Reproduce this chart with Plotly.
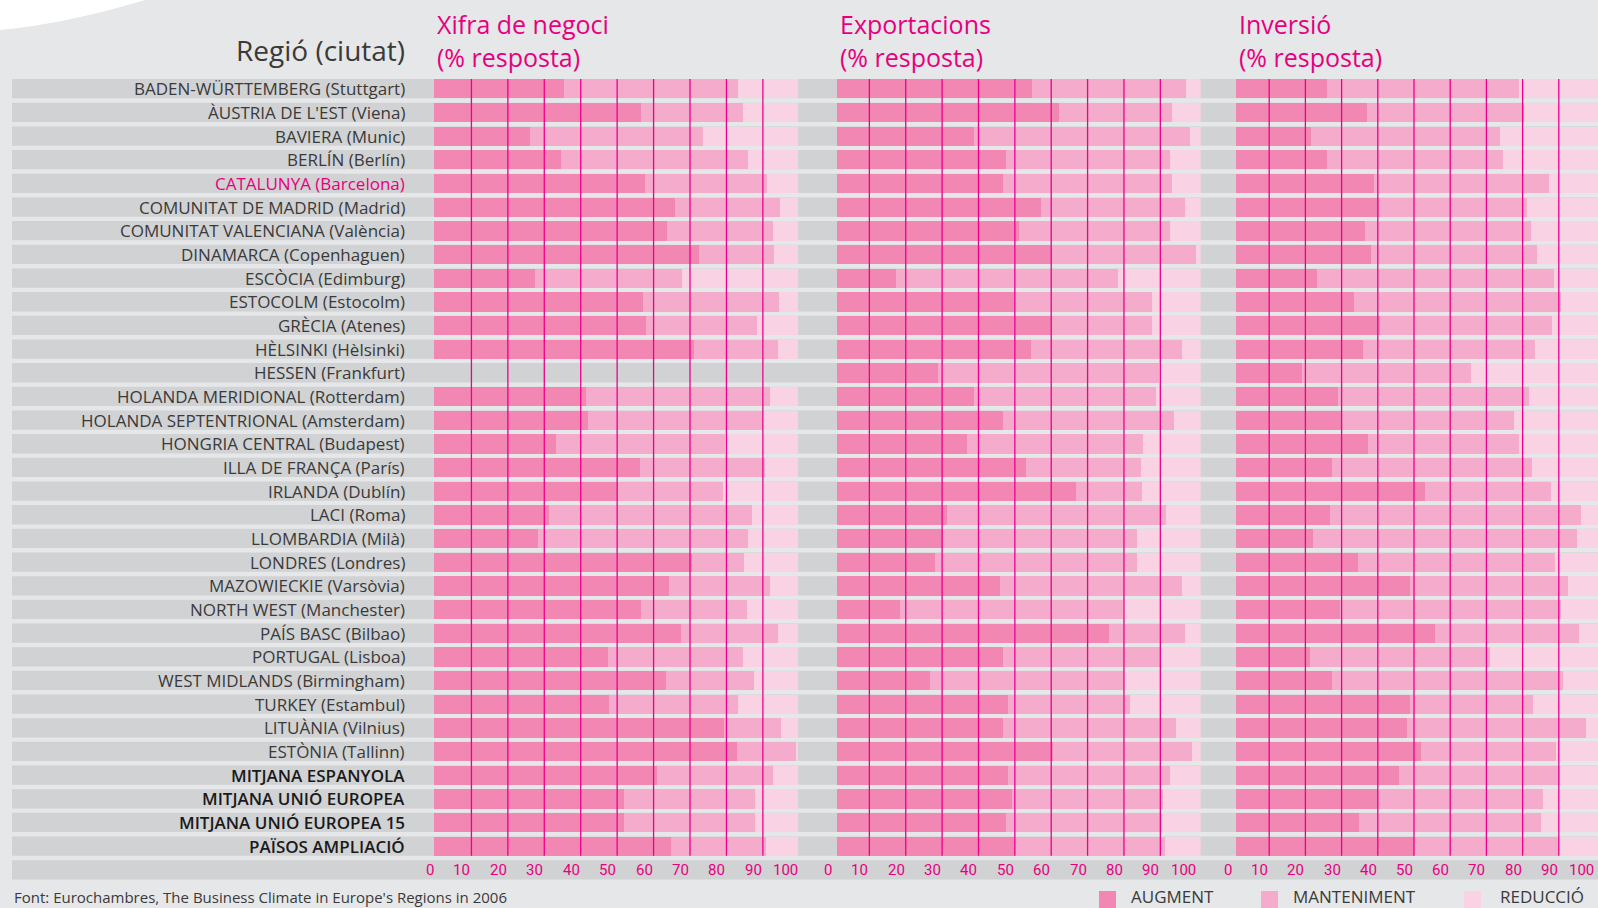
import plotly.graph_objects as go

# ---------------- data ----------------
regions = [
    "BADEN-WÜRTTEMBERG (Stuttgart)", "ÀUSTRIA DE L'EST (Viena)", "BAVIERA (Munic)",
    "BERLÍN (Berlín)", "CATALUNYA (Barcelona)", "COMUNITAT DE MADRID (Madrid)",
    "COMUNITAT VALENCIANA (València)", "DINAMARCA (Copenhaguen)", "ESCÒCIA (Edimburg)",
    "ESTOCOLM (Estocolm)", "GRÈCIA (Atenes)", "HÈLSINKI (Hèlsinki)", "HESSEN (Frankfurt)",
    "HOLANDA MERIDIONAL (Rotterdam)", "HOLANDA SEPTENTRIONAL (Amsterdam)",
    "HONGRIA CENTRAL (Budapest)", "ILLA DE FRANÇA (París)", "IRLANDA (Dublín)",
    "LACI (Roma)", "LLOMBARDIA (Milà)", "LONDRES (Londres)", "MAZOWIECKIE (Varsòvia)",
    "NORTH WEST (Manchester)", "PAÍS BASC (Bilbao)", "PORTUGAL (Lisboa)",
    "WEST MIDLANDS (Birmingham)", "TURKEY (Estambul)", "LITUÀNIA (Vilnius)",
    "ESTÒNIA (Tallinn)", "MITJANA ESPANYOLA", "MITJANA UNIÓ EUROPEA",
    "MITJANA UNIÓ EUROPEA 15", "PAÏSOS AMPLIACIÓ",
]
highlight_region = "CATALUNYA (Barcelona)"
summary_regions = ["MITJANA ESPANYOLA", "MITJANA UNIÓ EUROPEA",
                   "MITJANA UNIÓ EUROPEA 15", "PAÏSOS AMPLIACIÓ"]

# Xifra de negoci
xifra_augment = [35.7, 56.8, 26.3, 34.9, 57.9, 66.1, 63.9, 72.7, 27.7, 57.4, 58.2, 71.4, None,
                 41.7, 42.3, 33.5, 56.5, 50.5, 31.6, 28.5, 70.8, 64.5, 56.8, 67.8, 47.8, 63.7,
                 48.0, 79.6, 83.2, 61.2, 52.2, 52.2, 65.0]
xifra_manteniment = [47.7, 28.0, 47.5, 51.3, 33.5, 28.9, 29.1, 20.6, 40.4, 37.3, 30.5, 23.0, None,
                     50.5, 48.0, 46.4, 34.4, 28.8, 55.7, 57.7, 14.3, 27.7, 29.1, 26.6, 37.0, 24.1,
                     35.4, 15.6, 16.2, 31.8, 35.9, 35.9, 26.1]
xifra_reduccio = [16.6, 15.2, 26.2, 13.8, 8.6, 5.0, 7.0, 6.7, 31.9, 5.3, 11.3, 5.6, None,
                  7.8, 9.7, 20.1, 9.1, 20.7, 12.7, 13.8, 14.9, 7.8, 14.1, 5.6, 15.2, 12.2,
                  16.6, 4.8, 0.6, 7.0, 11.9, 11.9, 8.9]

# Exportacions
export_augment = [53.6, 61.0, 37.7, 46.5, 45.6, 56.1, 50.0, 58.8, 16.2, 48.9, 58.8, 53.3, 27.8,
                  37.7, 45.6, 35.7, 52.0, 65.7, 30.2, 29.1, 26.9, 44.8, 17.3, 74.8, 45.6, 25.6,
                  47.0, 45.6, 59.4, 47.0, 48.1, 46.5, 48.9]
export_manteniment = [42.4, 31.1, 59.4, 45.1, 46.5, 39.6, 41.6, 39.9, 61.1, 37.7, 27.8, 41.6, 60.7,
                      50.0, 47.1, 48.4, 31.6, 18.2, 60.3, 53.4, 55.6, 50.1, 61.3, 20.9, 43.2, 53.3,
                      33.6, 47.6, 38.2, 44.6, 41.5, 42.9, 41.3]
export_reduccio = [4.0, 7.9, 2.9, 8.4, 7.9, 4.3, 8.4, 1.3, 22.7, 13.4, 13.4, 5.1, 11.5,
                   12.3, 7.3, 15.9, 16.4, 16.1, 9.5, 17.5, 17.5, 5.1, 21.4, 4.3, 11.2, 21.1,
                   19.4, 6.8, 2.4, 8.4, 10.4, 10.6, 9.8]

# Inversió
inversio_augment = [25.0, 36.1, 20.6, 25.0, 38.0, 39.6, 35.5, 37.2, 22.3, 32.5, 39.9, 35.2, 18.2,
                    28.3, 29.2, 36.6, 26.4, 52.3, 25.9, 21.2, 33.6, 48.2, 28.6, 55.0, 20.4, 26.4,
                    48.2, 47.3, 51.2, 44.9, 39.1, 33.9, 49.1]
inversio_manteniment = [53.2, 43.4, 52.3, 48.8, 48.4, 40.8, 46.0, 45.9, 65.5, 57.2, 47.3, 47.4, 46.8,
                        52.6, 47.6, 41.6, 55.3, 34.7, 69.3, 72.9, 54.5, 43.5, 61.1, 39.7, 49.8, 63.9,
                        33.8, 49.3, 37.1, 44.5, 45.7, 50.3, 40.1]
inversio_reduccio = [21.8, 20.5, 27.1, 26.2, 13.6, 19.6, 18.5, 16.9, 12.2, 10.3, 12.8, 17.4, 35.0,
                     19.1, 23.2, 21.8, 18.3, 13.0, 4.8, 5.9, 11.9, 8.3, 10.3, 5.3, 29.8, 9.7,
                     18.0, 3.4, 11.7, 10.6, 15.2, 15.8, 10.8]

panel_titles = [("Xifra de negoci", "(% resposta)"),
                ("Exportacions", "(% resposta)"),
                ("Inversió", "(% resposta)")]
series_names = ["AUGMENT", "MANTENIMENT", "REDUCCIÓ"]
tick_values = [0, 10, 20, 30, 40, 50, 60, 70, 80, 90, 100]
tick_labels = ["0", "10", "20", "30", "40", "50", "60", "70", "80", "90", "100"]
grid_values = [10, 20, 30, 40, 50, 60, 70, 80, 90]
row_header = "Regió (ciutat)"
source_note = "Font: Eurochambres, The Business Climate in Europe's Regions in 2006"

# ---------------- style ----------------
W, H = 1598, 908
BG = "#e6e7e8"
BAND = "#d1d2d4"
COLORS = ["#f287b3", "#f4abcc", "#f9d3e3"]
MAGENTA = "#e6007e"
GRID = "#ec008c"
TEXT = "#3a3a3a"
FONT = "'Open Sans', 'DejaVu Sans', sans-serif"
TICKFONT = "Roboto, 'Open Sans', sans-serif"

panels = [
    (xifra_augment, xifra_manteniment, xifra_reduccio),
    (export_augment, export_manteniment, export_reduccio),
    (inversio_augment, inversio_manteniment, inversio_reduccio),
]
axes = ["x", "x2", "x3"]
x_domains = [(434 / W, 798.3 / W), (837 / W, 1200.7 / W), (1236 / W, 1.0)]
x_ranges = [[0, 100], [0, 100], [0, 100]]
grid_shift = [1, -4, -3]           # px offset of the grid/tick layer in each panel

n = len(regions)
yidx = list(range(n))
row_top_px, pitch = 88.7, 23.67
y_top = 1 - (row_top_px - 0.5 * pitch) / H
y_bot = 1 - (row_top_px + (n + 0.5) * pitch) / H
BARW = 0.815

fig = go.Figure()

for p, (vals, ax) in enumerate(zip(panels, axes)):
    for s, (v, name) in enumerate(zip(vals, series_names)):
        fig.add_trace(go.Bar(
            y=yidx, x=v, orientation="h", name=name, width=BARW,
            marker=dict(color=COLORS[s], line=dict(width=0)),
            xaxis=ax, yaxis="y", showlegend=False, hoverinfo="skip",
        ))

layout = dict(
    width=W, height=H,
    margin=dict(l=0, r=0, t=0, b=0),
    paper_bgcolor=BG, plot_bgcolor="rgba(0,0,0,0)",
    barmode="stack", bargap=0,
    showlegend=False,
    font=dict(family=FONT, color=TEXT),
    yaxis=dict(range=[n + 0.5, -0.5], domain=[y_bot, y_top], showticklabels=False,
               showgrid=False, zeroline=False, showline=False, fixedrange=True),
)
for p, ax in enumerate(axes):
    key = "xaxis" if ax == "x" else "xaxis" + ax[1:]
    layout[key] = dict(domain=list(x_domains[p]), range=x_ranges[p], anchor="y",
                       showticklabels=False, showgrid=False, zeroline=False,
                       showline=False, fixedrange=True)
fig.update_layout(**layout)

shapes = []
# white arc at top-left corner
shapes.append(dict(type="path", xref="paper", yref="paper",
                   path=f"M 0,1 L {145 / W},1 Q {65 / W},{1 - 24 / H} 0,{1 - 30 / H} Z",
                   fillcolor="white", line=dict(width=0), layer="below"))
# grey row bands (one per region plus the axis row)
for i in range(n + 1):
    shapes.append(dict(type="rect", xref="paper", yref="y", x0=12 / W, x1=1,
                       y0=i - BARW / 2, y1=i + BARW / 2, fillcolor=BAND,
                       line=dict(width=0), layer="below"))
# magenta grid lines drawn above the bars
for p, ax in enumerate(axes):
    for g in grid_values:
        shapes.append(dict(type="line", xref=ax, yref="y", xsizemode="pixel", xanchor=g,
                           x0=grid_shift[p], x1=grid_shift[p],
                           y0=-BARW / 2, y1=n - 1 + BARW / 2,
                           line=dict(color=GRID, width=1.3), layer="above"))

annotations = []
# tick labels inside the axis row
for p, ax in enumerate(axes):
    for v, t in zip(tick_values, tick_labels):
        annotations.append(dict(x=v, y=n, xref=ax, yref="y", text=t, showarrow=False,
                                xanchor="right", yanchor="middle", xshift=grid_shift[p] + 1,
                                font=dict(size=15, color=MAGENTA, family=TICKFONT)))
# region labels
for i, r in enumerate(regions):
    if r == highlight_region:
        f = dict(size=17, color=MAGENTA, family=FONT)
    elif r in summary_regions:
        f = dict(size=17, color="#1a1a1a", family=FONT, weight=600)
    else:
        f = dict(size=17, color=TEXT, family=FONT)
    annotations.append(dict(x=407 / W, y=i, xref="paper", yref="y", text=r, showarrow=False,
                            xanchor="right", yanchor="middle", font=f))
# headers
annotations.append(dict(x=407 / W, y=1 - 50 / H, xref="paper", yref="paper", text=row_header,
                        showarrow=False, xanchor="right", yanchor="middle",
                        font=dict(size=28, color=TEXT, family=FONT)))
for p, (l1, l2) in enumerate(panel_titles):
    x0 = x_domains[p][0] + 1 / W
    annotations.append(dict(x=x0, y=1 - 40 / H, xref="paper", yref="paper",
                            text=l1 + "<br>" + l2,
                            showarrow=False, xanchor="left", yanchor="middle", align="left",
                            font=dict(size=25, color=MAGENTA, family=FONT)))
# source
annotations.append(dict(x=12 / W, y=1 - 897 / H, xref="paper", yref="paper", text=source_note,
                        showarrow=False, xanchor="left", yanchor="middle",
                        font=dict(size=15, color=TEXT, family=FONT)))
# legend (manual)
leg_sq = [1099, 1261, 1464]
leg_tx = [1129, 1291, 1498]
for s, name in enumerate(series_names):
    shapes.append(dict(type="rect", xref="paper", yref="paper",
                       x0=leg_sq[s] / W, x1=(leg_sq[s] + 17) / W,
                       y0=0, y1=1 - 891 / H, fillcolor=COLORS[s], line=dict(width=0)))
    annotations.append(dict(x=leg_tx[s] / W, y=1 - 896 / H, xref="paper", yref="paper",
                            text=name, showarrow=False, xanchor="left", yanchor="middle",
                            font=dict(size=17, color=TEXT, family=FONT)))

fig.update_layout(shapes=shapes, annotations=annotations)
fig.write_html(
    "out.html",
    config={"displayModeBar": False},
    post_script="document.body.style.margin='0';document.body.style.overflow='hidden';",
)
